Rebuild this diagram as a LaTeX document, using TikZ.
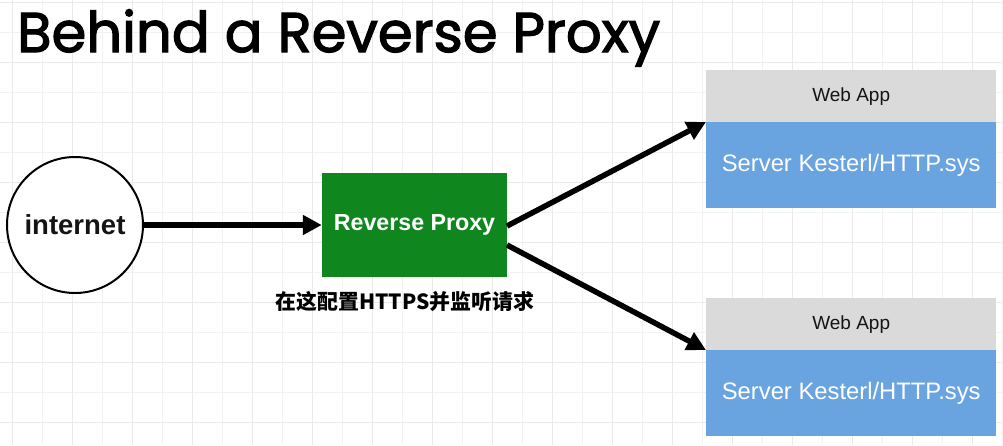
\documentclass[tikz,border=0pt]{standalone}
\usepackage{fontspec}
\setmainfont{Liberation Sans}
\newfontfamily\titlefont{Poppins}[FakeBold=2.2]
\newfontfamily\cjk{Noto Sans CJK SC}
\usetikzlibrary{arrows.meta}
\definecolor{gridminor}{RGB}{242,242,242}
\definecolor{gridmajor}{RGB}{234,234,234}
\definecolor{proxygreen}{RGB}{16,135,30}
\definecolor{appgray}{RGB}{218,218,218}
\definecolor{appblue}{RGB}{106,164,224}
\definecolor{txtdark}{RGB}{20,20,20}
\tikzset{
  conn/.style={line width=5.5pt, draw=black, -{Triangle[length=19pt,width=19pt]}},
  hdr/.style={fill=appgray, draw=none, minimum width=290pt, minimum height=52pt, inner sep=0pt, font=\fontsize{19}{21}\selectfont, text=txtdark, anchor=north west},
  body/.style={fill=appblue, draw=none, minimum width=290pt, minimum height=86pt, inner sep=0pt, font=\fontsize{23.8}{26}\selectfont, text=white, anchor=north west},
}
\begin{document}
\begin{tikzpicture}[x=1pt,y=-1pt]
\useasboundingbox (0,0) rectangle (1003,445);
\fill[white] (0,0) rectangle (1003,445);
% grid
\foreach \gx in {12,42,...,1002} {\draw[gridminor, line width=1pt] (\gx,0) -- (\gx,445);}
\foreach \gy in {2,32,...,444} {\draw[gridminor, line width=1pt] (0,\gy) -- (1003,\gy);}
\foreach \gx in {12,72,...,1002} {\draw[gridmajor, line width=1pt] (\gx,0) -- (\gx,445);}
\foreach \gy in {2,62,...,444} {\draw[gridmajor, line width=1pt] (0,\gy) -- (1003,\gy);}
% title
\node[anchor=base west, inner sep=0pt] (title) at (17,52) {\resizebox{643pt}{!}{\titlefont\fontsize{58}{60}\selectfont Behind a Reverse Proxy}};
% internet
\node[circle, draw=black, line width=2pt, fill=white, minimum size=136pt, inner sep=0pt, font=\bfseries\fontsize{27.5}{29}\selectfont, text=txtdark] (inet) at (75,225) {internet};
% proxy
\node[fill=proxygreen, minimum width=185pt, minimum height=104pt, inner sep=0pt, font=\bfseries\fontsize{23.2}{25}\selectfont, text=white] (proxy) at (414.5,225) {Reverse Proxy};
\node[font=\cjk\bfseries\fontsize{20.9}{23}\selectfont, text=black, inner sep=0pt] (note) at (405,302) {在这配置HTTPS并监听请求};
% web apps
\node[hdr] (h1) at (706,70) {Web App};
\node[body] (b1) at (706,122) {Server Kesterl/HTTP.sys};
\node[hdr] (h2) at (706,298) {Web App};
\node[body] (b2) at (706,350) {Server Kesterl/HTTP.sys};
% connectors
\coordinate (p1) at (507,226);
\coordinate (p2) at (507,245);
\draw[conn] (inet.east) -- (proxy.west);
\draw[conn] (p1) -- (b1.north west);
\draw[conn] (p2) -- (b2.north west);
\end{tikzpicture}
\end{document}
